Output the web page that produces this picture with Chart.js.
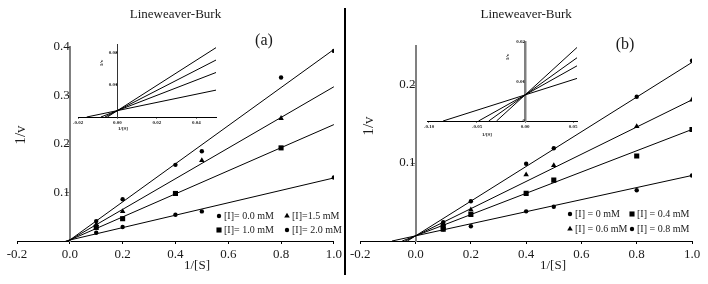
<!DOCTYPE html>
<html><head><meta charset="utf-8">
<script src="https://cdn.jsdelivr.net/npm/chart.js@4.4.0/dist/chart.umd.min.js"></script>
<style>
html,body{margin:0;padding:0;background:#fff;}
#wrap{position:relative;width:708px;height:284px;overflow:hidden;background:#fff;}
#wrap canvas{position:absolute;}
#divider{position:absolute;left:344px;top:8px;width:2px;height:267px;background:#000;}
</style></head><body>
<div id="wrap">
<canvas id="mainA" width="345" height="284" style="left:0px;top:0px"></canvas>
<canvas id="mainB" width="361" height="284" style="left:347px;top:0px"></canvas>
<canvas id="insetA" width="170" height="110" style="left:60px;top:30px"></canvas>
<canvas id="insetB" width="175" height="120" style="left:415px;top:25px"></canvas>
<div id="divider"></div>
</div>
<script>
// ---------------- DATA ----------------
const titleText = 'Lineweaver-Burk';
const xAxisTitle = '1/[S]';
const yAxisTitle = '1/v';

const xTicksMain = [-0.2, 0.0, 0.2, 0.4, 0.6, 0.8, 1.0];
const xTickLabelsMain = ['-0.2', '0.0', '0.2', '0.4', '0.6', '0.8', '1.0'];
const yTicksA = [0.1, 0.2, 0.3, 0.4];
const yTickLabelsA = ['0.1', '0.2', '0.3', '0.4'];
const yTicksB = [0.1, 0.2];
const yTickLabelsB = ['0.1', '0.2'];

// Panel (a)
const labelsA = ['[I]= 0.0 mM', '[I]=1.5 mM', '[I]= 1.0 mM', '[I]= 2.0 mM'];
const a0x = [0.1, 0.2, 0.4, 0.5, 0.8, 1.0];
const a0y = [0.041, 0.086, 0.157, 0.185, 0.337, 0.392];
const a15x = [0.1, 0.2, 0.5, 0.8];
const a15y = [0.034, 0.061, 0.166, 0.253];
const a10x = [0.1, 0.2, 0.4, 0.8];
const a10y = [0.028, 0.046, 0.098, 0.192];
const a20x = [0.1, 0.2, 0.4, 0.5, 1.0];
const a20y = [0.017, 0.029, 0.054, 0.061, 0.131];
// fitted lines: x-intercept (1/v = 0) and value at 1/[S] = 1.0
const fitAx0 = [-0.0051, -0.0063, -0.0084, -0.0156];
const fitAy1 = [0.395, 0.318, 0.240, 0.130];

// Panel (b)
const labelsB = ['[I] = 0 mM', '[I] = 0.4 mM', '[I] = 0.6 mM', '[I] = 0.8 mM'];
const b0x = [0.1, 0.2, 0.4, 0.5, 0.8, 1.0];
const b0y = [0.024, 0.051, 0.099, 0.119, 0.185, 0.231];
const b04x = [0.1, 0.1, 0.2, 0.4, 0.5, 0.8, 1.0];
const b04y = [0.019, 0.015, 0.034, 0.061, 0.078, 0.109, 0.143];
const b06x = [0.1, 0.2, 0.4, 0.5, 0.8, 1.0];
const b06y = [0.022, 0.040, 0.085, 0.097, 0.147, 0.181];
const b08x = [0.1, 0.2, 0.4, 0.5, 0.8, 1.0];
const b08y = [0.015, 0.019, 0.038, 0.044, 0.065, 0.084];
const fitBx0 = [-0.0297, -0.0484, -0.0378, -0.0853];
const fitBy1 = [0.229, 0.143, 0.181, 0.084];

// Insets
const insetAXTicks = [-0.02, 0.0, 0.02, 0.04];
const insetAXLabels = ['-0.02', '0.00', '0.02', '0.04'];
const insetAYTicks = [0.01, 0.02];
const insetAYLabels = ['0.01', '0.02'];
const insetBXTicks = [-0.10, -0.05, 0.0, 0.05];
const insetBXLabels = ['-0.10', '-0.05', '0.00', '0.05'];
const insetBYTicks = [0.0, 0.01, 0.02];
const insetBYLabels = ['0', '0.01', '0.02'];

// ---------------- HELPERS ----------------
const serif = "'Liberation Serif', 'Times New Roman', serif";
const ink = '#1a1a1a';

function pts(xs, ys) { return xs.map((x, i) => ({x: x, y: ys[i]})); }
function fitLine(x0, y1) { return [{x: x0, y: 0}, {x: 1.0, y: y1}]; }
function setTicks(vals) { return (s) => { s.ticks = vals.map(v => ({value: v})); }; }
function labelCb(vals, labels) {
  return function (value) {
    let k = -1;
    vals.forEach((v, j) => { if (Math.abs(v - value) < 1e-9) k = j; });
    return k >= 0 ? labels[k] : '';
  };
}
function pointSet(label, xs, ys, style, r) {
  return {label: label, data: pts(xs, ys), pointStyle: style, pointRadius: r,
    backgroundColor: '#000', borderColor: '#000', borderWidth: 0, showLine: false};
}
function lineSet(x0, y1) {
  return {data: fitLine(x0, y1), showLine: true, pointRadius: 0, borderColor: '#000',
    borderWidth: 1, fill: false, tension: 0};
}
function drawMarker(ctx, style, x, y, r) {
  ctx.beginPath();
  if (style === 'rect') {
    const h = r * Math.SQRT1_2;
    ctx.rect(x - h, y - h, 2 * h, 2 * h);
  } else if (style === 'triangle') {
    let a = 0;
    ctx.moveTo(x + Math.sin(a) * r, y - Math.cos(a) * r);
    a += 2 * Math.PI / 3;
    ctx.lineTo(x + Math.sin(a) * r, y - Math.cos(a) * r);
    a += 2 * Math.PI / 3;
    ctx.lineTo(x + Math.sin(a) * r, y - Math.cos(a) * r);
    ctx.closePath();
  } else {
    ctx.arc(x, y, r, 0, Math.PI * 2);
  }
  ctx.fill();
}
function textPlugin(items) {
  return {
    id: 'freeText',
    afterDraw(chart) {
      const ctx = chart.ctx;
      items.forEach(it => {
        ctx.save();
        ctx.font = it.font;
        ctx.fillStyle = ink;
        ctx.textAlign = 'center';
        ctx.textBaseline = 'middle';
        ctx.translate(it.x, it.y);
        if (it.rot) ctx.rotate(it.rot);
        ctx.fillText(it.text, 0, 0);
        ctx.restore();
      });
    }
  };
}
function legendPlugin(items, font) {
  return {
    id: 'inLegend',
    afterDraw(chart) {
      const ctx = chart.ctx;
      items.forEach(it => {
        const ds = chart.data.datasets[it.ds];
        ctx.save();
        ctx.fillStyle = '#000';
        drawMarker(ctx, ds.pointStyle, it.x, it.y, ds.pointRadius);
        ctx.fillStyle = ink;
        ctx.font = font;
        ctx.textAlign = 'left';
        ctx.textBaseline = 'middle';
        ctx.fillText(ds.label, it.x + 5, it.y);
        ctx.restore();
      });
    }
  };
}
function mainChart(id, cfg) {
  return new Chart(document.getElementById(id), {
    type: 'scatter',
    data: {datasets: cfg.datasets},
    options: {
      responsive: false, animation: false, events: [],
      layout: {padding: cfg.padding},
      plugins: {
        legend: {display: false}, tooltip: {enabled: false},
        title: {display: true, text: titleText, fullSize: false, color: ink,
          font: {family: serif, size: 13, weight: 'normal'},
          padding: {top: 7.2, bottom: cfg.titleBottom}}
      },
      scales: {
        x: {type: 'linear', position: 'bottom', min: -0.2, max: 1.0,
          afterBuildTicks: setTicks(xTicksMain),
          afterFit: (s) => { s.height = 43; },
          grid: {display: true, drawOnChartArea: false, drawTicks: true, tickLength: 3, color: '#000'},
          border: {display: true, color: '#000', width: 1},
          ticks: {font: {family: serif, size: 13}, color: ink, padding: 3, maxRotation: 0, autoSkip: false,
            callback: labelCb(xTicksMain, xTickLabelsMain)}},
        y: {type: 'linear', position: {x: 0}, min: 0, max: cfg.ymax,
          afterBuildTicks: setTicks(cfg.yTicks),
          grid: {display: true, drawOnChartArea: false, drawTicks: true, tickLength: 4, color: '#808080'},
          border: {display: true, color: '#808080', width: 2},
          ticks: {font: {family: serif, size: 13}, color: ink, padding: cfg.yPad, autoSkip: false,
            callback: labelCb(cfg.yTicks, cfg.yLabels)}}
      }
    },
    plugins: [textPlugin(cfg.texts), legendPlugin(cfg.legend, '10px ' + serif)]
  });
}
function insetChart(id, cfg) {
  const tiny = {family: serif, size: 5, weight: 'bold'};
  return new Chart(document.getElementById(id), {
    type: 'scatter',
    data: {datasets: cfg.x0.map((x0, i) => lineSet(x0, cfg.y1[i]))},
    options: {
      responsive: false, animation: false, events: [],
      layout: {padding: cfg.padding},
      plugins: {legend: {display: false}, tooltip: {enabled: false}, title: {display: false}},
      scales: {
        x: {type: 'linear', position: 'bottom', min: cfg.xmin, max: cfg.xmax,
          afterBuildTicks: setTicks(cfg.xTicks),
          afterFit: (s) => { s.height = cfg.xh; },
          grid: {display: true, drawOnChartArea: false, drawTicks: true, tickLength: 1.5, color: '#000'},
          border: {display: true, color: '#000', width: 1},
          ticks: {font: tiny, color: ink, padding: 1.5, maxRotation: 0, autoSkip: false,
            callback: labelCb(cfg.xTicks, cfg.xLabels)}},
        y: {type: 'linear', position: {x: 0}, min: 0, max: cfg.ymax,
          afterBuildTicks: setTicks(cfg.yTicks),
          grid: {display: true, drawOnChartArea: false, drawTicks: true, tickLength: 1.5, color: cfg.yColor},
          border: {display: true, color: cfg.yColor, width: cfg.yWidth},
          ticks: {font: tiny, color: ink, padding: 3, autoSkip: false,
            callback: labelCb(cfg.yTicks, cfg.yLabels)}}
      }
    },
    plugins: [textPlugin(cfg.texts)]
  });
}

// ---------------- CHARTS ----------------
mainChart('mainA', {
  datasets: [
    pointSet(labelsA[0], a0x, a0y, 'circle', 2.2),
    pointSet(labelsA[1], a15x, a15y, 'triangle', 3.2),
    pointSet(labelsA[2], a10x, a10y, 'rect', 3.6),
    pointSet(labelsA[3], a20x, a20y, 'circle', 2.2),
    ...fitAx0.map((x0, i) => lineSet(x0, fitAy1[i]))
  ],
  padding: {left: 17, right: 10, top: 0, bottom: 0},
  titleBottom: 24.2,
  ymax: 0.4, yTicks: yTicksA, yLabels: yTickLabelsA, yPad: 7,
  texts: [
    {text: '(a)', x: 264, y: 41, font: '16px ' + serif},
    {text: yAxisTitle, x: 21, y: 135, font: '15px ' + serif, rot: -Math.PI / 2},
    {text: xAxisTitle, x: 197, y: 266, font: '13px ' + serif}
  ],
  legend: [
    {ds: 0, x: 219, y: 216}, {ds: 1, x: 287, y: 216},
    {ds: 2, x: 219, y: 230}, {ds: 3, x: 287, y: 230}
  ]
});
mainChart('mainB', {
  datasets: [
    pointSet(labelsB[0], b0x, b0y, 'circle', 2.2),
    pointSet(labelsB[1], b04x, b04y, 'rect', 3.6),
    pointSet(labelsB[2], b06x, b06y, 'triangle', 3.2),
    pointSet(labelsB[3], b08x, b08y, 'circle', 2.2),
    ...fitBx0.map((x0, i) => lineSet(x0, fitBy1[i]))
  ],
  padding: {left: 10, right: 16, top: 0, bottom: 0},
  titleBottom: 23.2,
  ymax: 0.25, yTicks: yTicksB, yLabels: yTickLabelsB, yPad: 5,
  texts: [
    {text: '(b)', x: 278, y: 45, font: '16px ' + serif},
    {text: yAxisTitle, x: 22, y: 126, font: '15px ' + serif, rot: -Math.PI / 2},
    {text: xAxisTitle, x: 206, y: 266, font: '13px ' + serif}
  ],
  legend: [
    {ds: 0, x: 223, y: 214}, {ds: 1, x: 285, y: 214},
    {ds: 2, x: 223, y: 229}, {ds: 3, x: 285, y: 229}
  ]
});
insetChart('insetA', {
  x0: fitAx0, y1: fitAy1,
  padding: {left: 18, right: 14, top: 14, bottom: 5},
  xh: 18, xmin: -0.02, xmax: 0.05, xTicks: insetAXTicks, xLabels: insetAXLabels,
  ymax: 0.0228, yTicks: insetAYTicks, yLabels: insetAYLabels,
  yColor: '#333', yWidth: 1,
  texts: [
    {text: yAxisTitle, x: 42, y: 33, font: 'bold 5px ' + serif, rot: -Math.PI / 2},
    {text: xAxisTitle, x: 63, y: 99, font: 'bold 5px ' + serif}
  ]
});
insetChart('insetB', {
  x0: fitBx0, y1: fitBy1,
  padding: {left: 12, right: 13, top: 17, bottom: 4},
  xh: 20, xmin: -0.102, xmax: 0.054, xTicks: insetBXTicks, xLabels: insetBXLabels,
  ymax: 0.02, yTicks: insetBYTicks, yLabels: insetBYLabels,
  yColor: '#808080', yWidth: 2.5,
  texts: [
    {text: yAxisTitle, x: 93, y: 32, font: 'bold 5px ' + serif, rot: -Math.PI / 2},
    {text: xAxisTitle, x: 72, y: 110, font: 'bold 5px ' + serif}
  ]
});
</script>
</body></html>
